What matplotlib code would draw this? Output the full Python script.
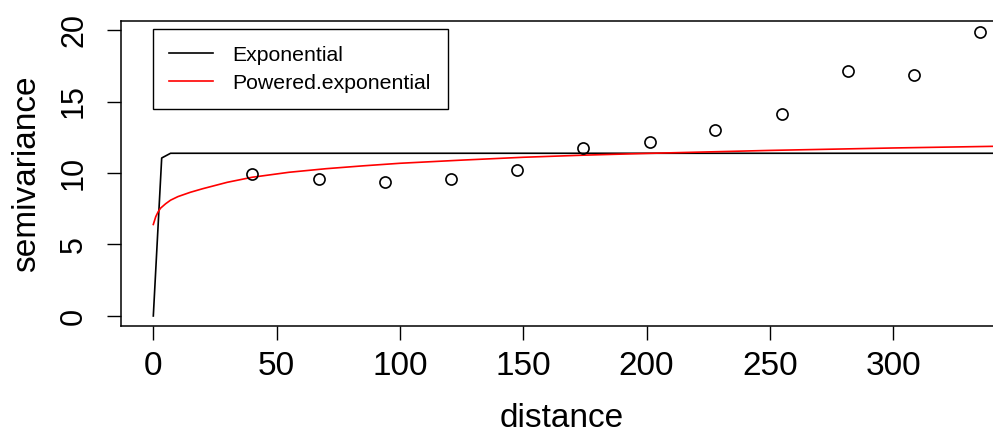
import matplotlib
matplotlib.use('Agg')
import matplotlib.pyplot as plt

plt.rcParams['font.family'] = ['Liberation Sans', 'DejaVu Sans']

# empirical semivariogram
dist = [40.2, 67.2, 93.9, 120.9, 147.5, 174.2, 201.2, 227.9, 254.9, 281.6, 308.6, 335.2]
gamma = [9.93, 9.58, 9.37, 9.58, 10.2, 11.75, 12.17, 13.0, 14.13, 17.13, 16.85, 19.86]

# fitted model lines
exp_h = [0, 3.4, 7, 100, 200, 300, 360]
exp_g = [0, 11.05, 11.38, 11.38, 11.38, 11.38, 11.38]
pow_h = [0, 1, 2, 3, 5, 7, 10, 15, 20, 30, 40, 55, 70, 85, 100, 125, 150, 175, 200, 250, 300, 360]
pow_g = [6.4, 6.95, 7.3, 7.55, 7.85, 8.1, 8.35, 8.65, 8.9, 9.35, 9.7, 10.05, 10.3, 10.5, 10.68, 10.9, 11.1, 11.25, 11.37, 11.58, 11.75, 11.92]

fig = plt.figure(figsize=(9.93, 4.33), dpi=100)
ax = fig.add_axes([121 / 993, 1 - 326 / 433, 1 - 121 / 993 + 0.01, 305 / 433])

ax.plot(exp_h, exp_g, color='black', lw=1.2, label='Exponential')
ax.plot(pow_h, pow_g, color='red', lw=1.2, label='Powered.exponential')
ax.plot(dist, gamma, linestyle='none', marker='o', markersize=8, markerfacecolor='none',
        markeredgecolor='black', markeredgewidth=1.2)

ax.set_xlim(-13.1, 344.5)
ax.set_ylim(-0.7, 20.63)
ax.set_xticks([0, 50, 100, 150, 200, 250, 300])
ax.set_yticks([0, 5, 10, 15, 20])
ax.tick_params(axis='both', direction='out', length=10, width=1.0)
ax.tick_params(axis='x', labelsize=24, pad=8)
ax.tick_params(axis='y', labelsize=22, pad=13)
for lbl in ax.get_yticklabels():
    lbl.set_rotation(90)
    lbl.set_va('center')
for s in ax.spines.values():
    s.set_linewidth(1.1)
ax.spines['right'].set_visible(False)

ax.set_xlabel('distance', fontsize=24, labelpad=15)
ax.set_ylabel('semivariance', fontsize=24, labelpad=12)

leg = ax.legend(loc='upper left', bbox_to_anchor=(0.036, 0.973), fontsize=15.3, frameon=True,
                fancybox=False, edgecolor='black', framealpha=1, handlelength=2.05,
                handletextpad=0.93, borderpad=0.78, labelspacing=0.42, borderaxespad=0)
leg.get_frame().set_linewidth(1.0)

fig.savefig('out.png', dpi=100)
